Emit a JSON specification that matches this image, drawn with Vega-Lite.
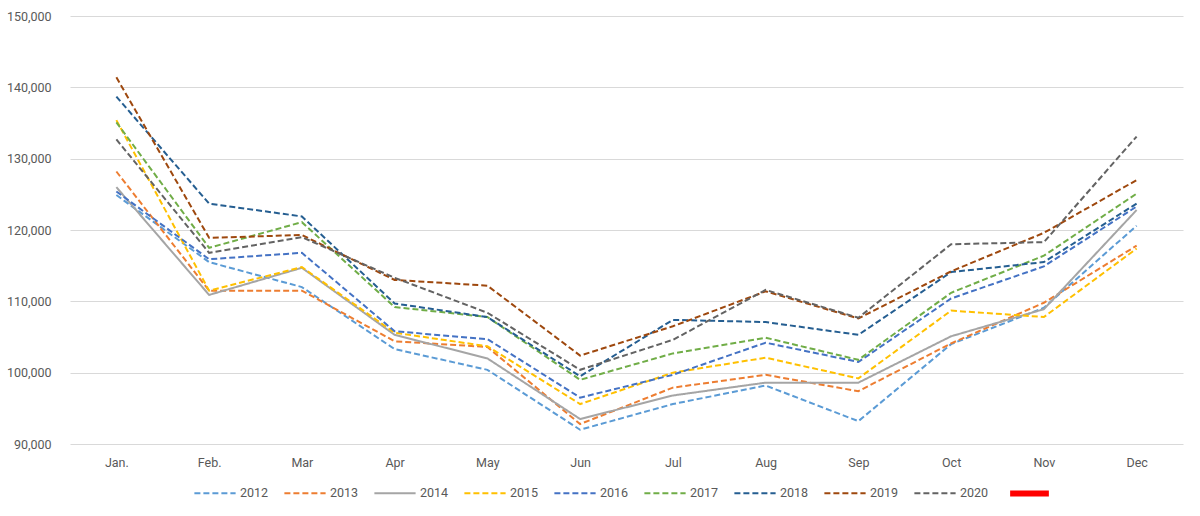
{
  "$schema": "https://vega.github.io/schema/vega-lite/v6.json",
  "width": 1200,
  "height": 516,
  "autosize": {"type": "fit", "contains": "padding"},
  "padding": {"left": 6, "top": 10, "right": 17, "bottom": 10},
  "background": "white",
  "data": {
    "values": [
      {"month": "Jan.", "year": "2012", "value": 124900},
      {"month": "Feb.", "year": "2012", "value": 115500},
      {"month": "Mar", "year": "2012", "value": 112000},
      {"month": "Apr", "year": "2012", "value": 103300},
      {"month": "May", "year": "2012", "value": 100400},
      {"month": "Jun", "year": "2012", "value": 92000},
      {"month": "Jul", "year": "2012", "value": 95600},
      {"month": "Aug", "year": "2012", "value": 98200},
      {"month": "Sep", "year": "2012", "value": 93200},
      {"month": "Oct", "year": "2012", "value": 104000},
      {"month": "Nov", "year": "2012", "value": 109100},
      {"month": "Dec", "year": "2012", "value": 120600},

      {"month": "Jan.", "year": "2013", "value": 128200},
      {"month": "Feb.", "year": "2013", "value": 111500},
      {"month": "Mar", "year": "2013", "value": 111500},
      {"month": "Apr", "year": "2013", "value": 104400},
      {"month": "May", "year": "2013", "value": 103600},
      {"month": "Jun", "year": "2013", "value": 92800},
      {"month": "Jul", "year": "2013", "value": 97900},
      {"month": "Aug", "year": "2013", "value": 99700},
      {"month": "Sep", "year": "2013", "value": 97400},
      {"month": "Oct", "year": "2013", "value": 104100},
      {"month": "Nov", "year": "2013", "value": 109800},
      {"month": "Dec", "year": "2013", "value": 117800},

      {"month": "Jan.", "year": "2014", "value": 126000},
      {"month": "Feb.", "year": "2014", "value": 110900},
      {"month": "Mar", "year": "2014", "value": 114700},
      {"month": "Apr", "year": "2014", "value": 105300},
      {"month": "May", "year": "2014", "value": 102000},
      {"month": "Jun", "year": "2014", "value": 93500},
      {"month": "Jul", "year": "2014", "value": 96800},
      {"month": "Aug", "year": "2014", "value": 98600},
      {"month": "Sep", "year": "2014", "value": 98600},
      {"month": "Oct", "year": "2014", "value": 105100},
      {"month": "Nov", "year": "2014", "value": 108900},
      {"month": "Dec", "year": "2014", "value": 122800},

      {"month": "Jan.", "year": "2015", "value": 135400},
      {"month": "Feb.", "year": "2015", "value": 111500},
      {"month": "Mar", "year": "2015", "value": 114800},
      {"month": "Apr", "year": "2015", "value": 105600},
      {"month": "May", "year": "2015", "value": 103700},
      {"month": "Jun", "year": "2015", "value": 95600},
      {"month": "Jul", "year": "2015", "value": 100000},
      {"month": "Aug", "year": "2015", "value": 102100},
      {"month": "Sep", "year": "2015", "value": 99200},
      {"month": "Oct", "year": "2015", "value": 108700},
      {"month": "Nov", "year": "2015", "value": 107800},
      {"month": "Dec", "year": "2015", "value": 117400},

      {"month": "Jan.", "year": "2016", "value": 125400},
      {"month": "Feb.", "year": "2016", "value": 115900},
      {"month": "Mar", "year": "2016", "value": 116800},
      {"month": "Apr", "year": "2016", "value": 105800},
      {"month": "May", "year": "2016", "value": 104700},
      {"month": "Jun", "year": "2016", "value": 96500},
      {"month": "Jul", "year": "2016", "value": 99700},
      {"month": "Aug", "year": "2016", "value": 104200},
      {"month": "Sep", "year": "2016", "value": 101500},
      {"month": "Oct", "year": "2016", "value": 110400},
      {"month": "Nov", "year": "2016", "value": 114900},
      {"month": "Dec", "year": "2016", "value": 123300},

      {"month": "Jan.", "year": "2017", "value": 135100},
      {"month": "Feb.", "year": "2017", "value": 117500},
      {"month": "Mar", "year": "2017", "value": 121100},
      {"month": "Apr", "year": "2017", "value": 109200},
      {"month": "May", "year": "2017", "value": 107800},
      {"month": "Jun", "year": "2017", "value": 99000},
      {"month": "Jul", "year": "2017", "value": 102700},
      {"month": "Aug", "year": "2017", "value": 104900},
      {"month": "Sep", "year": "2017", "value": 101800},
      {"month": "Oct", "year": "2017", "value": 111200},
      {"month": "Nov", "year": "2017", "value": 116400},
      {"month": "Dec", "year": "2017", "value": 125100},

      {"month": "Jan.", "year": "2018", "value": 138700},
      {"month": "Feb.", "year": "2018", "value": 123700},
      {"month": "Mar", "year": "2018", "value": 121900},
      {"month": "Apr", "year": "2018", "value": 109700},
      {"month": "May", "year": "2018", "value": 107800},
      {"month": "Jun", "year": "2018", "value": 99500},
      {"month": "Jul", "year": "2018", "value": 107400},
      {"month": "Aug", "year": "2018", "value": 107100},
      {"month": "Sep", "year": "2018", "value": 105300},
      {"month": "Oct", "year": "2018", "value": 114100},
      {"month": "Nov", "year": "2018", "value": 115500},
      {"month": "Dec", "year": "2018", "value": 123700},

      {"month": "Jan.", "year": "2019", "value": 141400},
      {"month": "Feb.", "year": "2019", "value": 118900},
      {"month": "Mar", "year": "2019", "value": 119300},
      {"month": "Apr", "year": "2019", "value": 113000},
      {"month": "May", "year": "2019", "value": 112200},
      {"month": "Jun", "year": "2019", "value": 102400},
      {"month": "Jul", "year": "2019", "value": 106500},
      {"month": "Aug", "year": "2019", "value": 111400},
      {"month": "Sep", "year": "2019", "value": 107600},
      {"month": "Oct", "year": "2019", "value": 114200},
      {"month": "Nov", "year": "2019", "value": 119600},
      {"month": "Dec", "year": "2019", "value": 127000},

      {"month": "Jan.", "year": "2020", "value": 132700},
      {"month": "Feb.", "year": "2020", "value": 116800},
      {"month": "Mar", "year": "2020", "value": 119000},
      {"month": "Apr", "year": "2020", "value": 113300},
      {"month": "May", "year": "2020", "value": 108400},
      {"month": "Jun", "year": "2020", "value": 100400},
      {"month": "Jul", "year": "2020", "value": 104600},
      {"month": "Aug", "year": "2020", "value": 111600},
      {"month": "Sep", "year": "2020", "value": 107700},
      {"month": "Oct", "year": "2020", "value": 118000},
      {"month": "Nov", "year": "2020", "value": 118300},
      {"month": "Dec", "year": "2020", "value": 133100}
    ]
  },
  "encoding": {
    "x": {
      "field": "month",
      "type": "nominal",
      "sort": ["Jan.", "Feb.", "Mar", "Apr", "May", "Jun", "Jul", "Aug", "Sep", "Oct", "Nov", "Dec"],
      "scale": {"padding": 0.5},
      "axis": {
        "title": null,
        "labelAngle": 0,
        "ticks": false,
        "domain": false,
        "labelPadding": 12,
        "labelColor": "#595959",
        "labelFontSize": 12.5
      }
    },
    "y": {
      "field": "value",
      "type": "quantitative",
      "scale": {"domain": [90000, 150000], "nice": false, "zero": false},
      "axis": {
        "title": null,
        "values": [90000, 100000, 110000, 120000, 130000, 140000, 150000],
        "format": ",.0f",
        "labelOverlap": false,
        "ticks": false,
        "domain": false,
        "grid": true,
        "gridColor": "#D9D9D9",
        "labelPadding": 19,
        "labelColor": "#595959",
        "labelFontSize": 12.5
      }
    }
  },
  "layer": [
    {
      "mark": {"type": "line", "strokeCap": "butt"},
      "encoding": {
        "color": {
          "field": "year",
          "type": "nominal",
          "scale": {
            "domain": ["2012", "2013", "2014", "2015", "2016", "2017", "2018", "2019", "2020"],
            "range": ["#5B9BD5", "#ED7D31", "#A5A5A5", "#FFC000", "#4472C4", "#70AD47", "#255E91", "#9E480E", "#636363"]
          },
          "legend": {
            "title": null,
            "orient": "bottom",
            "direction": "horizontal",
            "columns": 9,
            "symbolType": "stroke",
            "symbolSize": 1700,
            "symbolStrokeWidth": 2,
            "labelColor": "#595959",
            "labelFontSize": 12.5,
            "labelOffset": 3,
            "columnPadding": 11,
            "offset": 2
          }
        },
        "strokeDash": {
          "field": "year",
          "type": "nominal",
          "scale": {
            "domain": ["2012", "2013", "2014", "2015", "2016", "2017", "2018", "2019", "2020"],
            "range": [[6, 3], [6, 3], [1, 0], [6, 3], [6, 3], [6, 3], [6, 3], [6, 3], [6, 3]]
          }
        },
        "strokeWidth": {
          "field": "year",
          "type": "nominal",
          "scale": {
            "domain": ["2012", "2013", "2014", "2015", "2016", "2017", "2018", "2019", "2020"],
            "range": [2, 2, 3, 2, 2, 2, 2, 2, 2]
          },
          "legend": null
        }
      }
    },
    {
      "transform": [{"filter": "datum.year === 'none'"}],
      "mark": {"type": "line", "strokeWidth": 6, "strokeCap": "round"},
      "encoding": {
        "stroke": {
          "field": "year",
          "type": "nominal",
          "scale": {"domain": [" "], "range": ["#FF0000"]},
          "legend": {
            "title": null,
            "orient": "bottom",
            "symbolType": "stroke",
            "symbolSize": 1500,
            "symbolStrokeWidth": 6,
            "labelFontSize": 12.5,
            "labelOffset": 0,
            "offset": 2
          }
        }
      }
    }
  ],
  "config": {
    "font": "Roboto",
    "view": {"stroke": null},
    "legend": {"layout": {"bottom": {"anchor": "middle", "margin": 18}}}
  }
}
